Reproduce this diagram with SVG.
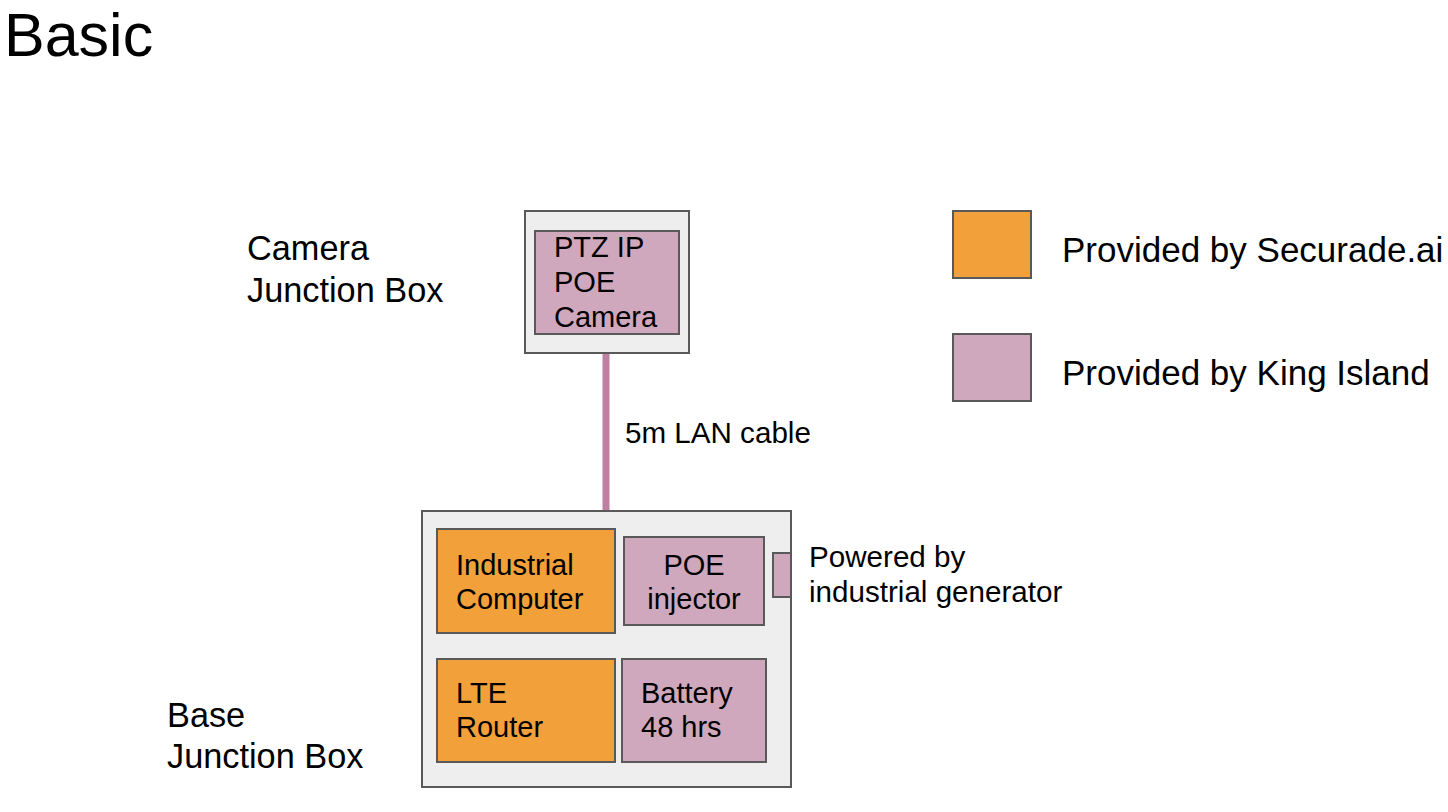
<svg xmlns="http://www.w3.org/2000/svg" width="1448" height="812" viewBox="0 0 1448 812">
<style>
text{font-family:"Liberation Sans",Arial,sans-serif;fill:#000}
.box{fill:#eeeeee;stroke:#595959;stroke-width:2}
.or{fill:#f1a03a;stroke:#595959;stroke-width:2}
.pk{fill:#d0a8bd;stroke:#595959;stroke-width:2}
.lbl{font-size:34.3px}
.in{font-size:29px}
.sm{font-size:29.6px}
.lg{font-size:35px}
</style>
<rect width="1448" height="812" fill="#ffffff"/>
<text x="4" y="56" font-size="61">Basic</text>
<g id="connectors">
<line x1="606" y1="353" x2="606" y2="514" stroke="#c080a2" stroke-width="7"/>
<text class="sm" x="625" y="443">5m LAN cable</text>
</g>
<g id="camera-junction-box">
<rect class="box" x="525" y="211" width="164" height="142"/>
<text class="lbl" x="247" y="260">Camera</text>
<text class="lbl" x="247" y="302">Junction Box</text>
</g>
<g id="ptz-camera">
<rect class="pk" x="535" y="231" width="144" height="103"/>
<text class="in" x="554" y="257">PTZ IP</text>
<text class="in" x="554" y="292">POE</text>
<text class="in" x="554" y="327">Camera</text>
</g>
<g id="base-junction-box">
<rect class="box" x="422" y="511" width="369" height="276"/>
<text class="lbl" x="167" y="727">Base</text>
<text class="lbl" x="167" y="768">Junction Box</text>
</g>
<g id="industrial-computer">
<rect class="or" x="437" y="529" width="178" height="104"/>
<text class="in" x="456" y="575">Industrial</text>
<text class="in" x="456" y="609">Computer</text>
</g>
<g id="poe-injector">
<rect class="pk" x="624" y="537" width="140" height="88"/>
<text class="in" x="694" y="575" text-anchor="middle">POE</text>
<text class="in" x="694" y="609" text-anchor="middle">injector</text>
</g>
<g id="power-input">
<rect class="pk" x="773" y="553" width="18" height="44"/>
<text class="sm" x="809" y="567">Powered by</text>
<text class="sm" x="809" y="602">industrial generator</text>
</g>
<g id="lte-router">
<rect class="or" x="437" y="659" width="178" height="103"/>
<text class="in" x="456" y="703">LTE</text>
<text class="in" x="456" y="737">Router</text>
</g>
<g id="battery">
<rect class="pk" x="622" y="659" width="144" height="103"/>
<text class="in" x="641" y="703">Battery</text>
<text class="in" x="641" y="737">48 hrs</text>
</g>
<g id="legend-securade">
<rect class="or" x="953" y="211" width="78" height="67"/>
<text class="lg" x="1062" y="262">Provided by Securade.ai</text>
</g>
<g id="legend-king-island">
<rect class="pk" x="953" y="334" width="78" height="67"/>
<text class="lg" x="1062" y="385">Provided by King Island</text>
</g>
</svg>
